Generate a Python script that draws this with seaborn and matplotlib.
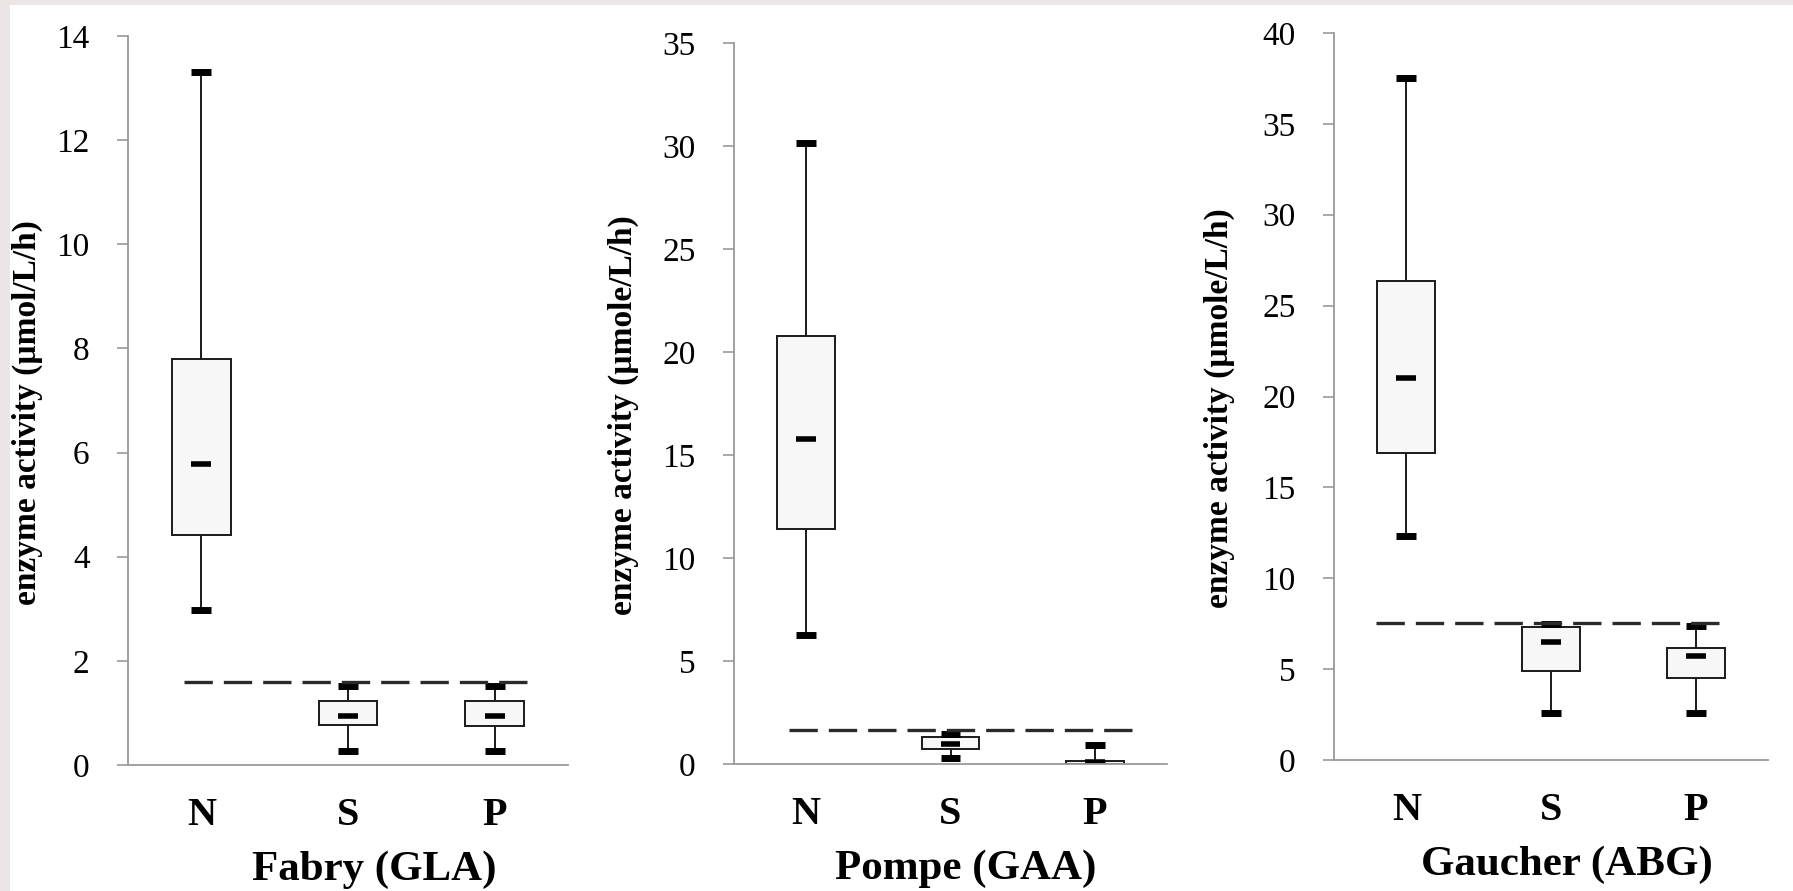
import numpy as np
import pandas as pd
import matplotlib
matplotlib.use("Agg")
import matplotlib.pyplot as plt
import seaborn as sns
from matplotlib.patches import Rectangle

# ==========================================
# data
# each list: low whisker, Q1, median, Q3, high whisker
# ==========================================
groups = ["N", "S", "P"]

fabry_N = [2.98, 4.41, 5.79, 7.79, 13.31]
fabry_S = [0.27, 0.77, 0.94, 1.23, 1.52]
fabry_P = [0.27, 0.75, 0.94, 1.23, 1.52]

pompe_N = [6.28, 11.43, 15.78, 20.80, 30.15]
pompe_S = [0.31, 0.72, 0.96, 1.29, 1.48]
pompe_P = [0.00, 0.00, 0.08, 0.15, 0.91]

gaucher_N = [12.35, 16.89, 21.04, 26.33, 37.52]
gaucher_S = [2.59, 4.90, 6.48, 7.30, 7.46]
gaucher_P = [2.59, 4.52, 5.73, 6.18, 7.35]

cutoffs = [1.59, 1.65, 7.52]
panel_titles = ["Fabry (GLA)", "Pompe (GAA)", "Gaucher (ABG)"]
ylabels = ["enzyme activity (µmol/L/h)",
           "enzyme activity (µmole/L/h)",
           "enzyme activity (µmole/L/h)"]
y_max = [14, 35, 40]
y_step = [2, 5, 5]

panels = [
    [fabry_N, fabry_S, fabry_P],
    [pompe_N, pompe_S, pompe_P],
    [gaucher_N, gaucher_S, gaucher_P],
]

# ==========================================
# layout / style
# ==========================================
W, H = 1793, 891
axes_rects = [
    [128 / W, 1 - 765 / H, 440 / W, 729 / H],
    [734 / W, 1 - 764 / H, 433 / W, 721 / H],
    [1334 / W, 1 - 760 / H, 434 / W, 727 / H],
]
cutoff_span = [(-0.12, 2.25), (-0.12, 2.28), (-0.21, 2.19)]
ylabel_x = [-0.193, -0.219, -0.228]
ylabel_y = 0.484
xlabel_x = [0.56, 0.535, 0.537]
mark_half = 0.068  # half width of median / cap bars

sns.set_theme(style="white")
plt.rcParams["font.family"] = ["Liberation Serif", "DejaVu Serif"]

fig = plt.figure(figsize=(W / 100, H / 100), dpi=100)
fig.patch.set_facecolor("#ebe5e5")
fig.add_artist(Rectangle((10 / W, 0), 1, 1 - 5 / H, transform=fig.transFigure,
                         facecolor="white", edgecolor="none", zorder=-10))

for i, boxes in enumerate(panels):
    ax = fig.add_axes(axes_rects[i])
    ax.set_facecolor("none")

    df = pd.DataFrame({
        "group": np.repeat(groups, [len(b) for b in boxes]),
        "value": np.concatenate(boxes),
    })

    sns.boxplot(
        data=df, x="group", y="value", order=groups, ax=ax,
        whis=(0, 100), width=0.40, color="#f7f7f7", saturation=1,
        linecolor="#1a1a1a", linewidth=1.4, showfliers=False,
        medianprops=dict(color="black", linewidth=4.0, gid="median"),
        capprops=dict(color="black", linewidth=5.0, gid="cap",
                      solid_capstyle="butt"),
        whiskerprops=dict(color="#1a1a1a", linewidth=1.4),
    )

    # short thick median / cap bars
    for line in ax.lines:
        if line.get_gid() in ("median", "cap"):
            xs = np.asarray(line.get_xdata(), dtype=float)
            c = xs.mean()
            line.set_xdata([c - mark_half, c + mark_half])

    # cut-off line
    ax.hlines(cutoffs[i], cutoff_span[i][0], cutoff_span[i][1],
              colors="#2a2a2a", linewidth=2.4, linestyles=(0, (8.5, 3.3)),
              zorder=4)

    ax.set_xlim(-0.5, 2.5)
    ax.set_ylim(0, y_max[i])
    ax.set_yticks(np.arange(0, y_max[i] + y_step[i], y_step[i]))

    sns.despine(ax=ax)
    for s in ("left", "bottom"):
        ax.spines[s].set_color("#9a9a9a")
        ax.spines[s].set_linewidth(1.3)

    ax.tick_params(axis="y", left=True, length=7.7, width=1.2, color="#9a9a9a",
                   pad=20, labelsize=24, labelcolor="black")
    ax.tick_params(axis="x", length=0, pad=23, labelsize=29, labelcolor="black")
    for lbl in ax.get_xticklabels():
        lbl.set_fontweight("bold")

    ax.set_ylabel(ylabels[i], fontsize=24, fontweight="bold", color="black")
    ax.yaxis.set_label_coords(ylabel_x[i], ylabel_y)
    ax.set_xlabel(panel_titles[i], fontsize=31, fontweight="bold", color="black")
    ax.xaxis.set_label_coords(xlabel_x[i], -0.118)
    ax.xaxis.label.set_va("top")

fig.savefig("out.png", dpi=100, facecolor=fig.get_facecolor())
